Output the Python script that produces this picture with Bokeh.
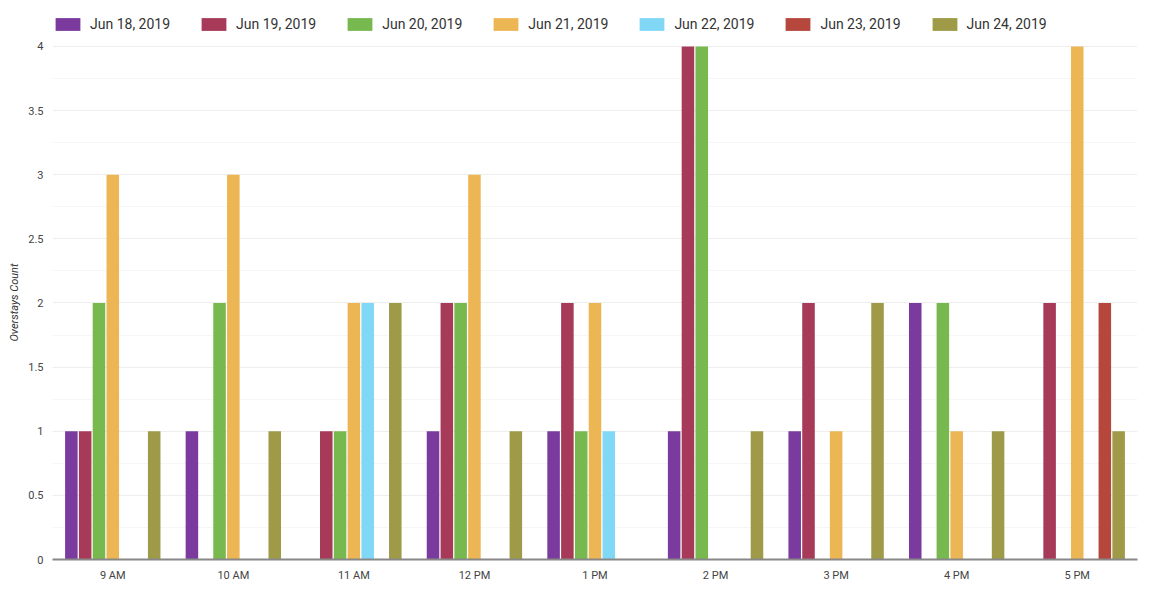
from bokeh.plotting import figure
from bokeh.models import (FactorRange, Range1d, ColumnDataSource, Legend, LegendItem,
                          FixedTicker, Title)
from bokeh.transform import dodge
from bokeh.embed import file_html
from bokeh.resources import INLINE

hours = ["9 AM", "10 AM", "11 AM", "12 PM", "1 PM", "2 PM", "3 PM", "4 PM", "5 PM"]
dates = ["Jun 18, 2019", "Jun 19, 2019", "Jun 20, 2019", "Jun 21, 2019",
         "Jun 22, 2019", "Jun 23, 2019", "Jun 24, 2019"]
jun18 = [1, 1, 0, 1, 1, 1, 1, 2, 0]
jun19 = [1, 0, 1, 2, 2, 4, 2, 0, 2]
jun20 = [2, 2, 1, 2, 1, 4, 0, 2, 0]
jun21 = [3, 3, 2, 3, 2, 0, 1, 1, 4]
jun22 = [0, 0, 2, 0, 1, 0, 0, 0, 0]
jun23 = [0, 0, 0, 0, 0, 0, 0, 0, 2]
jun24 = [1, 1, 2, 1, 0, 1, 2, 1, 1]
series = [jun18, jun19, jun20, jun21, jun22, jun23, jun24]
colors = ["#7A3A9E", "#A63A58", "#77B84F", "#ECB654", "#80D8F6", "#B5473C", "#9E9A48"]
y_ticks = [0, 0.5, 1, 1.5, 2, 2.5, 3, 3.5, 4]
y_minor = [0.25, 0.75, 1.25, 1.75, 2.25, 2.75, 3.25, 3.75]
y_tick_labels = ["0", "0.5", "1", "1.5", "2", "2.5", "3", "3.5", "4"]
y_title = "Overstays Count"

data = {"hour": hours}
for i, s in enumerate(series):
    data["s%d" % i] = s
source = ColumnDataSource(data)

# extra headroom above 4 holds the legend strip
p = figure(width=1160, height=600, x_range=FactorRange(*hours, range_padding=0),
           y_range=Range1d(0, 4.327), output_backend="svg", toolbar_location=None,
           min_border_left=52, min_border_right=23, min_border_top=4, min_border_bottom=41)
p.outline_line_color = None
p.background_fill_color = "white"

step = 0.1145
width = 0.104
renderers = []
for i, c in enumerate(colors):
    r = p.vbar(x=dodge("hour", (i - 3) * step, range=p.x_range), top="s%d" % i,
               width=width, source=source, fill_color=c, line_color=None)
    renderers.append(r)

p.xgrid.grid_line_color = None
p.ygrid.grid_line_color = "#EEEEEE"
p.ygrid.minor_grid_line_color = "#F6F6F6"

p.yaxis.ticker = FixedTicker(ticks=y_ticks, minor_ticks=y_minor)
p.yaxis.major_label_overrides = {t: l for t, l in zip(y_ticks, y_tick_labels)}
p.yaxis.axis_line_color = None
p.yaxis.major_tick_line_color = None
p.yaxis.minor_tick_line_color = None
p.yaxis.major_tick_out = 0
p.yaxis.minor_tick_out = 0
p.yaxis.major_label_standoff = 9
p.yaxis.major_label_text_font = "Roboto"
p.yaxis.major_label_text_font_size = "11px"
p.yaxis.major_label_text_color = "#444444"

# y-axis title, shifted so it is centred on the 0..4 span rather than the whole frame
p.add_layout(Title(text=y_title, align="left", offset=218, standoff=9,
                   text_font="Roboto", text_font_style="italic", text_font_size="11px",
                   text_color="#333333"), "left")

p.xaxis.axis_line_color = "#888888"
p.xaxis.axis_line_width = 2
p.xaxis.major_tick_line_color = None
p.xaxis.minor_tick_line_color = None
p.xaxis.major_tick_out = 0
p.xaxis.minor_tick_out = 0
p.xaxis.major_label_standoff = 9
p.xaxis.major_label_text_font = "Roboto"
p.xaxis.major_label_text_font_size = "11px"
p.xaxis.major_label_text_color = "#444444"

legend = Legend(items=[LegendItem(label=d, renderers=[r]) for d, r in zip(dates, renderers)],
                orientation="horizontal", location=(0, 527),
                glyph_width=31, glyph_height=16, label_standoff=7, spacing=28,
                label_height=16, padding=0, margin=0, border_line_color=None,
                background_fill_alpha=0,
                label_text_font="Roboto", label_text_font_size="14px",
                label_text_color="#333333")
p.add_layout(legend, "center")

open("out.html", "w").write(file_html(p, INLINE))
